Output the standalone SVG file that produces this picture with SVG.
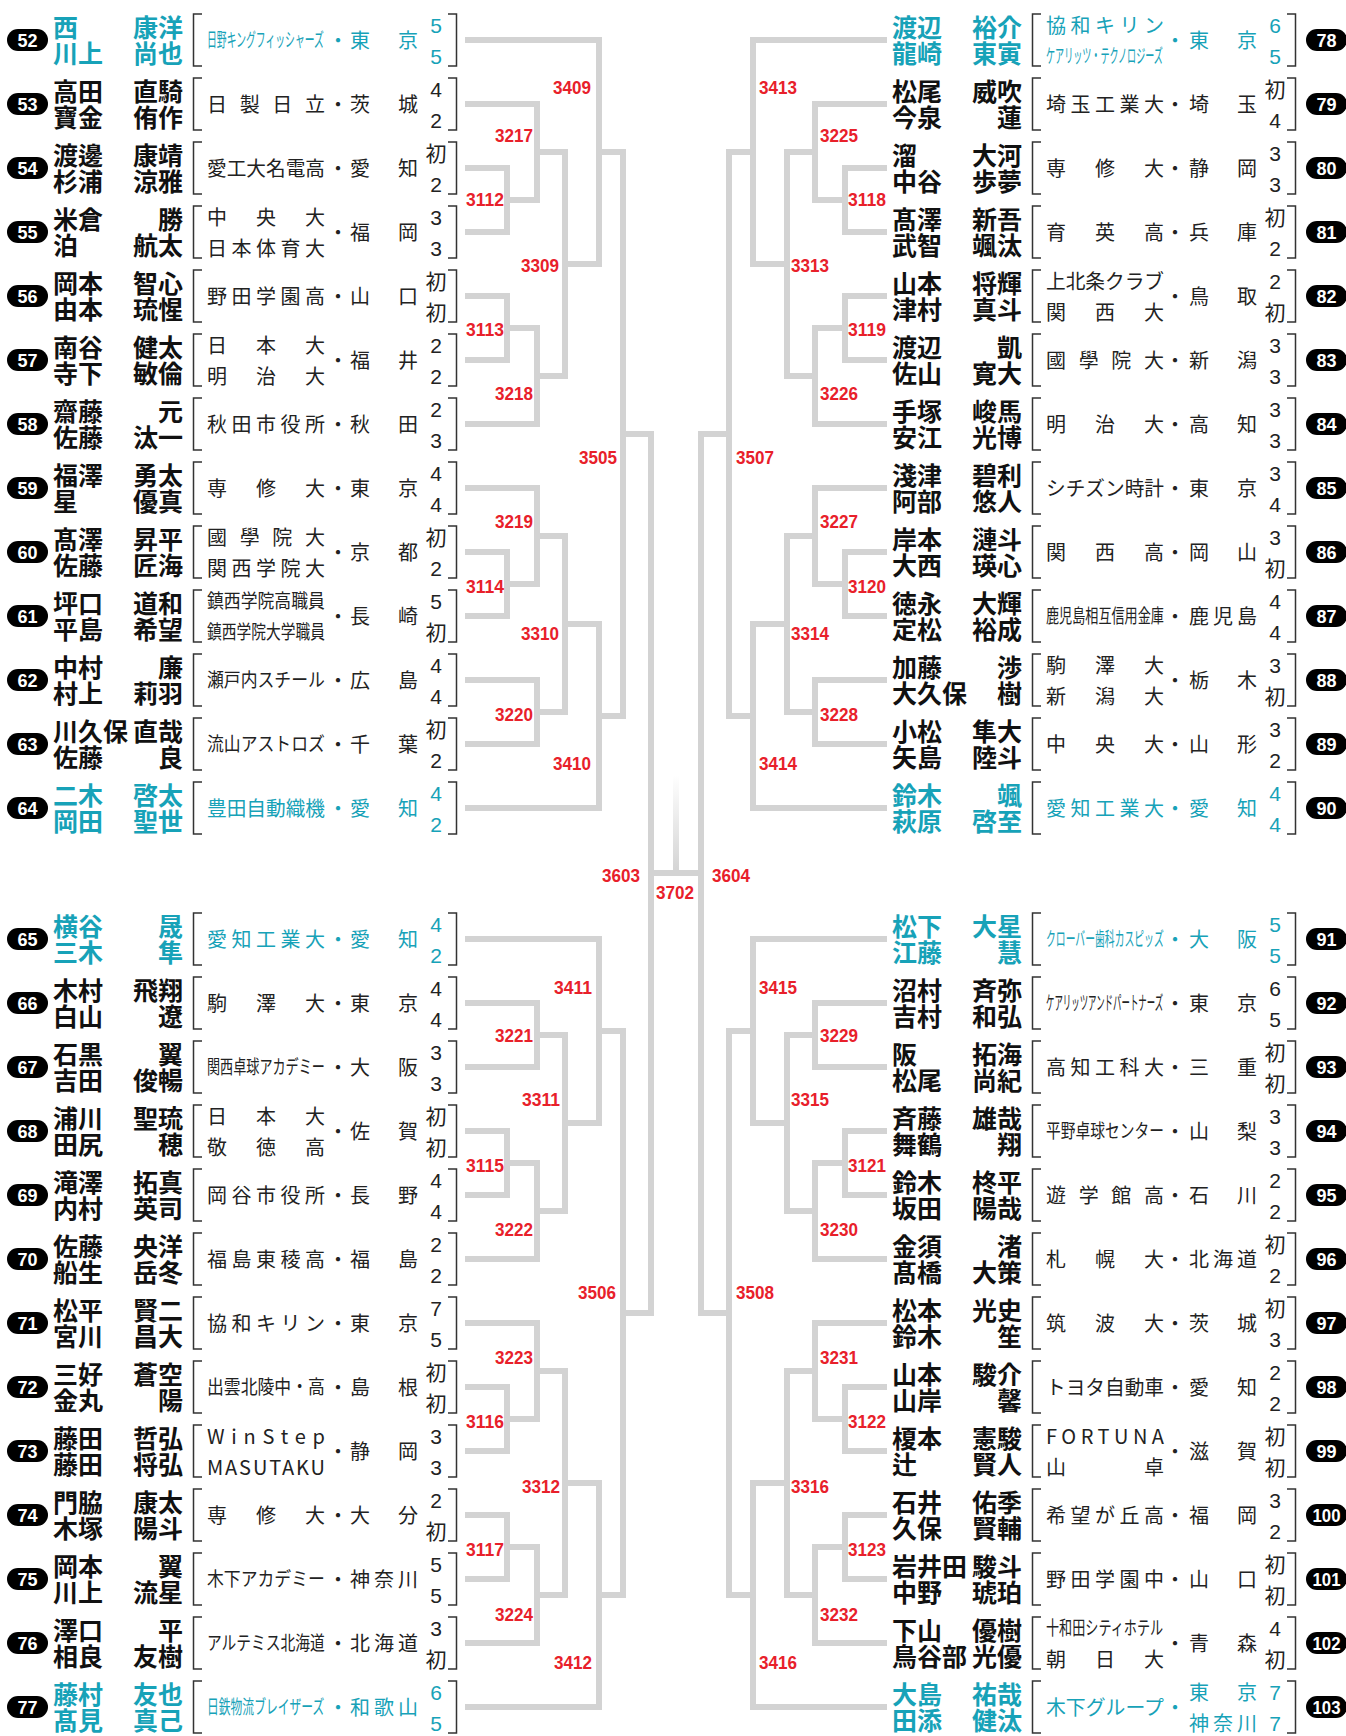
<svg xmlns="http://www.w3.org/2000/svg" width="1346" height="1736" viewBox="0 0 1346 1736">
<style>
.nm{font-family:"Noto Sans CJK JP",sans-serif;font-weight:700;font-size:25px;fill:#111}
.g{text-anchor:end}
.tm{font-family:"Noto Sans CJK JP",sans-serif;font-size:20px;fill:#222}
.tc{font-family:"Noto Sans CJK JP",sans-serif;font-size:19px;fill:#222}
.sc{font-family:"Liberation Sans","Noto Sans CJK JP",sans-serif;font-size:21px;fill:#222;text-anchor:middle}
.dt{font-family:"Noto Sans CJK JP",sans-serif;font-size:20px;fill:#222;text-anchor:middle}
.br{fill:none;stroke:#333;stroke-width:1.5}
.t .nm,.t .tm,.t .tc,.t .sc,.t .dt{fill:#17a2b8}
.t .br{stroke:#17a2b8}
.bd{fill:#000}
.bn{font-family:"Liberation Sans",sans-serif;font-weight:700;font-size:18px;fill:#fff;text-anchor:middle}
.ln{fill:none;stroke:#d3d3d3;stroke-width:6;stroke-linecap:square}
.lb{font-family:"Liberation Sans",sans-serif;font-weight:700;font-size:19px;fill:#e8202a;text-anchor:middle}
</style>
<defs>
<path id="brk" class="br" d="M202,-26H193.5V26H202M448,-26H456.5V26H448"/>
<linearGradient id="fade" x1="0" y1="0" x2="0" y2="1"><stop offset="0" stop-color="#d3d3d3" stop-opacity="0"/><stop offset="1" stop-color="#d3d3d3"/></linearGradient>
</defs>
<g id="connectors">
<g id="leftlines">
<path class="ln" d="M468,168H507V232H468M507,200H537M468,296H507V360H468M507,328H537M468,104H537V200M537,152H565M537,328V424H468M537,376H565M565,152V376M565,264H599M468,40H599V264M599,152H623M468,552H507V616H468M507,584H537M468,488H537V584M537,536H565M468,680H537V744H468M537,712H565M565,536V712M565,624H599M599,624V808H468M599,716H623M623,152V716M623,434H651M468,1003H537V1067H468M537,1035H565M468,1131H507V1195H468M507,1163H537M537,1163V1259H468M537,1211H565M565,1035V1211M565,1123H599M468,939H599V1123M599,1031H623M468,1387H507V1451H468M507,1419H537M468,1323H537V1419M537,1371H565M468,1515H507V1579H468M507,1547H537M537,1547V1643H468M537,1595H565M565,1371V1595M565,1483H599M599,1483V1707H468M599,1595H623M623,1031V1595M623,1313H651M651,434V1313M651,873H676"/>
</g>
<g id="rightlines" transform="matrix(-1,0,0,1,1352,0)">
<path class="ln" d="M468,168H507V232H468M507,200H537M468,296H507V360H468M507,328H537M468,104H537V200M537,152H565M537,328V424H468M537,376H565M565,152V376M565,264H599M468,40H599V264M599,152H623M468,552H507V616H468M507,584H537M468,488H537V584M537,536H565M468,680H537V744H468M537,712H565M565,536V712M565,624H599M599,624V808H468M599,716H623M623,152V716M623,434H651M468,1003H537V1067H468M537,1035H565M468,1131H507V1195H468M507,1163H537M537,1163V1259H468M537,1211H565M565,1035V1211M565,1123H599M468,939H599V1123M599,1031H623M468,1387H507V1451H468M507,1419H537M468,1323H537V1419M537,1371H565M468,1515H507V1579H468M507,1547H537M537,1547V1643H468M537,1595H565M565,1371V1595M565,1483H599M599,1483V1707H468M599,1595H623M623,1031V1595M623,1313H651M651,434V1313M651,873H676"/>
</g>
<rect x="673" y="775" width="6" height="98" fill="url(#fade)"/>
<g id="matchlabels">
<text class="lb" x="572" y="94" textLength="38" lengthAdjust="spacingAndGlyphs">3409</text>
<text class="lb" x="514" y="142" textLength="38" lengthAdjust="spacingAndGlyphs">3217</text>
<text class="lb" x="485" y="206" textLength="38" lengthAdjust="spacingAndGlyphs">3112</text>
<text class="lb" x="540" y="272" textLength="38" lengthAdjust="spacingAndGlyphs">3309</text>
<text class="lb" x="485" y="336" textLength="38" lengthAdjust="spacingAndGlyphs">3113</text>
<text class="lb" x="514" y="400" textLength="38" lengthAdjust="spacingAndGlyphs">3218</text>
<text class="lb" x="598" y="464" textLength="38" lengthAdjust="spacingAndGlyphs">3505</text>
<text class="lb" x="514" y="528" textLength="38" lengthAdjust="spacingAndGlyphs">3219</text>
<text class="lb" x="485" y="593" textLength="38" lengthAdjust="spacingAndGlyphs">3114</text>
<text class="lb" x="540" y="640" textLength="38" lengthAdjust="spacingAndGlyphs">3310</text>
<text class="lb" x="514" y="721" textLength="38" lengthAdjust="spacingAndGlyphs">3220</text>
<text class="lb" x="572" y="770" textLength="38" lengthAdjust="spacingAndGlyphs">3410</text>
<text class="lb" x="573" y="994" textLength="38" lengthAdjust="spacingAndGlyphs">3411</text>
<text class="lb" x="514" y="1042" textLength="38" lengthAdjust="spacingAndGlyphs">3221</text>
<text class="lb" x="541" y="1106" textLength="38" lengthAdjust="spacingAndGlyphs">3311</text>
<text class="lb" x="485" y="1172" textLength="38" lengthAdjust="spacingAndGlyphs">3115</text>
<text class="lb" x="514" y="1236" textLength="38" lengthAdjust="spacingAndGlyphs">3222</text>
<text class="lb" x="597" y="1299" textLength="38" lengthAdjust="spacingAndGlyphs">3506</text>
<text class="lb" x="514" y="1364" textLength="38" lengthAdjust="spacingAndGlyphs">3223</text>
<text class="lb" x="485" y="1428" textLength="38" lengthAdjust="spacingAndGlyphs">3116</text>
<text class="lb" x="541" y="1493" textLength="38" lengthAdjust="spacingAndGlyphs">3312</text>
<text class="lb" x="485" y="1556" textLength="38" lengthAdjust="spacingAndGlyphs">3117</text>
<text class="lb" x="514" y="1621" textLength="38" lengthAdjust="spacingAndGlyphs">3224</text>
<text class="lb" x="573" y="1669" textLength="38" lengthAdjust="spacingAndGlyphs">3412</text>
<text class="lb" x="621" y="882" textLength="38" lengthAdjust="spacingAndGlyphs">3603</text>
<text class="lb" x="675" y="899" textLength="38" lengthAdjust="spacingAndGlyphs">3702</text>
<text class="lb" x="731" y="882" textLength="38" lengthAdjust="spacingAndGlyphs">3604</text>
<text class="lb" x="778" y="94" textLength="38" lengthAdjust="spacingAndGlyphs">3413</text>
<text class="lb" x="839" y="142" textLength="38" lengthAdjust="spacingAndGlyphs">3225</text>
<text class="lb" x="867" y="206" textLength="38" lengthAdjust="spacingAndGlyphs">3118</text>
<text class="lb" x="810" y="272" textLength="38" lengthAdjust="spacingAndGlyphs">3313</text>
<text class="lb" x="867" y="336" textLength="38" lengthAdjust="spacingAndGlyphs">3119</text>
<text class="lb" x="839" y="400" textLength="38" lengthAdjust="spacingAndGlyphs">3226</text>
<text class="lb" x="755" y="464" textLength="38" lengthAdjust="spacingAndGlyphs">3507</text>
<text class="lb" x="839" y="528" textLength="38" lengthAdjust="spacingAndGlyphs">3227</text>
<text class="lb" x="867" y="593" textLength="38" lengthAdjust="spacingAndGlyphs">3120</text>
<text class="lb" x="810" y="640" textLength="38" lengthAdjust="spacingAndGlyphs">3314</text>
<text class="lb" x="839" y="721" textLength="38" lengthAdjust="spacingAndGlyphs">3228</text>
<text class="lb" x="778" y="770" textLength="38" lengthAdjust="spacingAndGlyphs">3414</text>
<text class="lb" x="778" y="994" textLength="38" lengthAdjust="spacingAndGlyphs">3415</text>
<text class="lb" x="839" y="1042" textLength="38" lengthAdjust="spacingAndGlyphs">3229</text>
<text class="lb" x="810" y="1106" textLength="38" lengthAdjust="spacingAndGlyphs">3315</text>
<text class="lb" x="867" y="1172" textLength="38" lengthAdjust="spacingAndGlyphs">3121</text>
<text class="lb" x="839" y="1236" textLength="38" lengthAdjust="spacingAndGlyphs">3230</text>
<text class="lb" x="755" y="1299" textLength="38" lengthAdjust="spacingAndGlyphs">3508</text>
<text class="lb" x="839" y="1364" textLength="38" lengthAdjust="spacingAndGlyphs">3231</text>
<text class="lb" x="867" y="1428" textLength="38" lengthAdjust="spacingAndGlyphs">3122</text>
<text class="lb" x="810" y="1493" textLength="38" lengthAdjust="spacingAndGlyphs">3316</text>
<text class="lb" x="867" y="1556" textLength="38" lengthAdjust="spacingAndGlyphs">3123</text>
<text class="lb" x="839" y="1621" textLength="38" lengthAdjust="spacingAndGlyphs">3232</text>
<text class="lb" x="778" y="1669" textLength="38" lengthAdjust="spacingAndGlyphs">3416</text>
</g>
</g>
<g id="nodes">
<g id="e52" class="t" transform="translate(0,40)"><rect class="bd" x="7" y="-11" width="41" height="22" rx="11"/><text class="bn" x="27.5" y="6.5">52</text><text class="nm" x="53" y="-3.5">西<tspan x="53" y="22.5">川上</tspan></text><text class="nm g" x="183" y="-3.5">康洋<tspan x="183" y="22.5">尚也</tspan></text><use href="#brk"/><text class="tc" transform="translate(207,7) scale(0.5175,1)">日野キングフィッシャーズ</text><text class="dt" x="338" y="7.6">・</text><text class="tm" x="350" y="7.6" textLength="68">東京</text><text class="sc" x="436" y="-7.5">5</text><text class="sc" x="436" y="23.5">5</text></g>
<g id="e53" transform="translate(0,104)"><rect class="bd" x="7" y="-11" width="41" height="22" rx="11"/><text class="bn" x="27.5" y="6.5">53</text><text class="nm" x="53" y="-3.5">高田<tspan x="53" y="22.5">寶金</tspan></text><text class="nm g" x="183" y="-3.5">直騎<tspan x="183" y="22.5">侑作</tspan></text><use href="#brk"/><text class="tm" x="207" y="7.6" textLength="118">日製日立</text><text class="dt" x="338" y="7.6">・</text><text class="tm" x="350" y="7.6" textLength="68">茨城</text><text class="sc" x="436" y="-7.5">4</text><text class="sc" x="436" y="23.5">2</text></g>
<g id="e54" transform="translate(0,168)"><rect class="bd" x="7" y="-11" width="41" height="22" rx="11"/><text class="bn" x="27.5" y="6.5">54</text><text class="nm" x="53" y="-3.5">渡邊<tspan x="53" y="22.5">杉浦</tspan></text><text class="nm g" x="183" y="-3.5">康靖<tspan x="183" y="22.5">涼雅</tspan></text><use href="#brk"/><text class="tm" x="207" y="7.6" textLength="118" lengthAdjust="spacingAndGlyphs">愛工大名電高</text><text class="dt" x="338" y="7.6">・</text><text class="tm" x="350" y="7.6" textLength="68">愛知</text><text class="sc" x="436" y="-7.5">初</text><text class="sc" x="436" y="23.5">2</text></g>
<g id="e55" transform="translate(0,232)"><rect class="bd" x="7" y="-11" width="41" height="22" rx="11"/><text class="bn" x="27.5" y="6.5">55</text><text class="nm" x="53" y="-3.5">米倉<tspan x="53" y="22.5">泊</tspan></text><text class="nm g" x="183" y="-3.5">勝<tspan x="183" y="22.5">航太</tspan></text><use href="#brk"/><text class="tm" x="207" y="-7.4" textLength="118">中央大</text><text class="tm" x="207" y="23.6" textLength="118">日本体育大</text><text class="dt" x="338" y="7.6">・</text><text class="tm" x="350" y="7.6" textLength="68">福岡</text><text class="sc" x="436" y="-7.5">3</text><text class="sc" x="436" y="23.5">3</text></g>
<g id="e56" transform="translate(0,296)"><rect class="bd" x="7" y="-11" width="41" height="22" rx="11"/><text class="bn" x="27.5" y="6.5">56</text><text class="nm" x="53" y="-3.5">岡本<tspan x="53" y="22.5">由本</tspan></text><text class="nm g" x="183" y="-3.5">智心<tspan x="183" y="22.5">琉惺</tspan></text><use href="#brk"/><text class="tm" x="207" y="7.6" textLength="118">野田学園高</text><text class="dt" x="338" y="7.6">・</text><text class="tm" x="350" y="7.6" textLength="68">山口</text><text class="sc" x="436" y="-7.5">初</text><text class="sc" x="436" y="23.5">初</text></g>
<g id="e57" transform="translate(0,360)"><rect class="bd" x="7" y="-11" width="41" height="22" rx="11"/><text class="bn" x="27.5" y="6.5">57</text><text class="nm" x="53" y="-3.5">南谷<tspan x="53" y="22.5">寺下</tspan></text><text class="nm g" x="183" y="-3.5">健太<tspan x="183" y="22.5">敏倫</tspan></text><use href="#brk"/><text class="tm" x="207" y="-7.4" textLength="118">日本大</text><text class="tm" x="207" y="23.6" textLength="118">明治大</text><text class="dt" x="338" y="7.6">・</text><text class="tm" x="350" y="7.6" textLength="68">福井</text><text class="sc" x="436" y="-7.5">2</text><text class="sc" x="436" y="23.5">2</text></g>
<g id="e58" transform="translate(0,424)"><rect class="bd" x="7" y="-11" width="41" height="22" rx="11"/><text class="bn" x="27.5" y="6.5">58</text><text class="nm" x="53" y="-3.5">齋藤<tspan x="53" y="22.5">佐藤</tspan></text><text class="nm g" x="183" y="-3.5">元<tspan x="183" y="22.5">汰一</tspan></text><use href="#brk"/><text class="tm" x="207" y="7.6" textLength="118">秋田市役所</text><text class="dt" x="338" y="7.6">・</text><text class="tm" x="350" y="7.6" textLength="68">秋田</text><text class="sc" x="436" y="-7.5">2</text><text class="sc" x="436" y="23.5">3</text></g>
<g id="e59" transform="translate(0,488)"><rect class="bd" x="7" y="-11" width="41" height="22" rx="11"/><text class="bn" x="27.5" y="6.5">59</text><text class="nm" x="53" y="-3.5">福澤<tspan x="53" y="22.5">星</tspan></text><text class="nm g" x="183" y="-3.5">勇太<tspan x="183" y="22.5">優真</tspan></text><use href="#brk"/><text class="tm" x="207" y="7.6" textLength="118">専修大</text><text class="dt" x="338" y="7.6">・</text><text class="tm" x="350" y="7.6" textLength="68">東京</text><text class="sc" x="436" y="-7.5">4</text><text class="sc" x="436" y="23.5">4</text></g>
<g id="e60" transform="translate(0,552)"><rect class="bd" x="7" y="-11" width="41" height="22" rx="11"/><text class="bn" x="27.5" y="6.5">60</text><text class="nm" x="53" y="-3.5">髙澤<tspan x="53" y="22.5">佐藤</tspan></text><text class="nm g" x="183" y="-3.5">昇平<tspan x="183" y="22.5">匠海</tspan></text><use href="#brk"/><text class="tm" x="207" y="-7.4" textLength="118">國學院大</text><text class="tm" x="207" y="23.6" textLength="118">関西学院大</text><text class="dt" x="338" y="7.6">・</text><text class="tm" x="350" y="7.6" textLength="68">京都</text><text class="sc" x="436" y="-7.5">初</text><text class="sc" x="436" y="23.5">2</text></g>
<g id="e61" transform="translate(0,616)"><rect class="bd" x="7" y="-11" width="41" height="22" rx="11"/><text class="bn" x="27.5" y="6.5">61</text><text class="nm" x="53" y="-3.5">坪口<tspan x="53" y="22.5">平島</tspan></text><text class="nm g" x="183" y="-3.5">道和<tspan x="183" y="22.5">希望</tspan></text><use href="#brk"/><text class="tc" transform="translate(207,-8) scale(0.887,1)">鎮西学院高職員</text><text class="tc" transform="translate(207,23) scale(0.776,1)">鎮西学院大学職員</text><text class="dt" x="338" y="7.6">・</text><text class="tm" x="350" y="7.6" textLength="68">長崎</text><text class="sc" x="436" y="-7.5">5</text><text class="sc" x="436" y="23.5">初</text></g>
<g id="e62" transform="translate(0,680)"><rect class="bd" x="7" y="-11" width="41" height="22" rx="11"/><text class="bn" x="27.5" y="6.5">62</text><text class="nm" x="53" y="-3.5">中村<tspan x="53" y="22.5">村上</tspan></text><text class="nm g" x="183" y="-3.5">廉<tspan x="183" y="22.5">莉羽</tspan></text><use href="#brk"/><text class="tc" transform="translate(207,7) scale(0.887,1)">瀬戸内スチール</text><text class="dt" x="338" y="7.6">・</text><text class="tm" x="350" y="7.6" textLength="68">広島</text><text class="sc" x="436" y="-7.5">4</text><text class="sc" x="436" y="23.5">4</text></g>
<g id="e63" transform="translate(0,744)"><rect class="bd" x="7" y="-11" width="41" height="22" rx="11"/><text class="bn" x="27.5" y="6.5">63</text><text class="nm" x="53" y="-3.5">川久保<tspan x="53" y="22.5">佐藤</tspan></text><text class="nm g" x="183" y="-3.5">直哉<tspan x="183" y="22.5">良</tspan></text><use href="#brk"/><text class="tc" transform="translate(207,7) scale(0.887,1)">流山アストロズ</text><text class="dt" x="338" y="7.6">・</text><text class="tm" x="350" y="7.6" textLength="68">千葉</text><text class="sc" x="436" y="-7.5">初</text><text class="sc" x="436" y="23.5">2</text></g>
<g id="e64" class="t" transform="translate(0,808)"><rect class="bd" x="7" y="-11" width="41" height="22" rx="11"/><text class="bn" x="27.5" y="6.5">64</text><text class="nm" x="53" y="-3.5">二木<tspan x="53" y="22.5">岡田</tspan></text><text class="nm g" x="183" y="-3.5">啓太<tspan x="183" y="22.5">聖世</tspan></text><use href="#brk"/><text class="tm" x="207" y="7.6" textLength="118" lengthAdjust="spacingAndGlyphs">豊田自動織機</text><text class="dt" x="338" y="7.6">・</text><text class="tm" x="350" y="7.6" textLength="68">愛知</text><text class="sc" x="436" y="-7.5">4</text><text class="sc" x="436" y="23.5">2</text></g>
<g id="e65" class="t" transform="translate(0,939)"><rect class="bd" x="7" y="-11" width="41" height="22" rx="11"/><text class="bn" x="27.5" y="6.5">65</text><text class="nm" x="53" y="-3.5">横谷<tspan x="53" y="22.5">三木</tspan></text><text class="nm g" x="183" y="-3.5">晟<tspan x="183" y="22.5">隼</tspan></text><use href="#brk"/><text class="tm" x="207" y="7.6" textLength="118">愛知工業大</text><text class="dt" x="338" y="7.6">・</text><text class="tm" x="350" y="7.6" textLength="68">愛知</text><text class="sc" x="436" y="-7.5">4</text><text class="sc" x="436" y="23.5">2</text></g>
<g id="e66" transform="translate(0,1003)"><rect class="bd" x="7" y="-11" width="41" height="22" rx="11"/><text class="bn" x="27.5" y="6.5">66</text><text class="nm" x="53" y="-3.5">木村<tspan x="53" y="22.5">白山</tspan></text><text class="nm g" x="183" y="-3.5">飛翔<tspan x="183" y="22.5">遼</tspan></text><use href="#brk"/><text class="tm" x="207" y="7.6" textLength="118">駒澤大</text><text class="dt" x="338" y="7.6">・</text><text class="tm" x="350" y="7.6" textLength="68">東京</text><text class="sc" x="436" y="-7.5">4</text><text class="sc" x="436" y="23.5">4</text></g>
<g id="e67" transform="translate(0,1067)"><rect class="bd" x="7" y="-11" width="41" height="22" rx="11"/><text class="bn" x="27.5" y="6.5">67</text><text class="nm" x="53" y="-3.5">石黒<tspan x="53" y="22.5">吉田</tspan></text><text class="nm g" x="183" y="-3.5">翼<tspan x="183" y="22.5">俊暢</tspan></text><use href="#brk"/><text class="tc" transform="translate(207,7) scale(0.69,1)">関西卓球アカデミー</text><text class="dt" x="338" y="7.6">・</text><text class="tm" x="350" y="7.6" textLength="68">大阪</text><text class="sc" x="436" y="-7.5">3</text><text class="sc" x="436" y="23.5">3</text></g>
<g id="e68" transform="translate(0,1131)"><rect class="bd" x="7" y="-11" width="41" height="22" rx="11"/><text class="bn" x="27.5" y="6.5">68</text><text class="nm" x="53" y="-3.5">浦川<tspan x="53" y="22.5">田尻</tspan></text><text class="nm g" x="183" y="-3.5">聖琉<tspan x="183" y="22.5">穂</tspan></text><use href="#brk"/><text class="tm" x="207" y="-7.4" textLength="118">日本大</text><text class="tm" x="207" y="23.6" textLength="118">敬徳高</text><text class="dt" x="338" y="7.6">・</text><text class="tm" x="350" y="7.6" textLength="68">佐賀</text><text class="sc" x="436" y="-7.5">初</text><text class="sc" x="436" y="23.5">初</text></g>
<g id="e69" transform="translate(0,1195)"><rect class="bd" x="7" y="-11" width="41" height="22" rx="11"/><text class="bn" x="27.5" y="6.5">69</text><text class="nm" x="53" y="-3.5">滝澤<tspan x="53" y="22.5">内村</tspan></text><text class="nm g" x="183" y="-3.5">拓真<tspan x="183" y="22.5">英司</tspan></text><use href="#brk"/><text class="tm" x="207" y="7.6" textLength="118">岡谷市役所</text><text class="dt" x="338" y="7.6">・</text><text class="tm" x="350" y="7.6" textLength="68">長野</text><text class="sc" x="436" y="-7.5">4</text><text class="sc" x="436" y="23.5">4</text></g>
<g id="e70" transform="translate(0,1259)"><rect class="bd" x="7" y="-11" width="41" height="22" rx="11"/><text class="bn" x="27.5" y="6.5">70</text><text class="nm" x="53" y="-3.5">佐藤<tspan x="53" y="22.5">船生</tspan></text><text class="nm g" x="183" y="-3.5">央洋<tspan x="183" y="22.5">岳冬</tspan></text><use href="#brk"/><text class="tm" x="207" y="7.6" textLength="118">福島東稜高</text><text class="dt" x="338" y="7.6">・</text><text class="tm" x="350" y="7.6" textLength="68">福島</text><text class="sc" x="436" y="-7.5">2</text><text class="sc" x="436" y="23.5">2</text></g>
<g id="e71" transform="translate(0,1323)"><rect class="bd" x="7" y="-11" width="41" height="22" rx="11"/><text class="bn" x="27.5" y="6.5">71</text><text class="nm" x="53" y="-3.5">松平<tspan x="53" y="22.5">宮川</tspan></text><text class="nm g" x="183" y="-3.5">賢二<tspan x="183" y="22.5">昌大</tspan></text><use href="#brk"/><text class="tm" x="207" y="7.6" textLength="118">協和キリン</text><text class="dt" x="338" y="7.6">・</text><text class="tm" x="350" y="7.6" textLength="68">東京</text><text class="sc" x="436" y="-7.5">7</text><text class="sc" x="436" y="23.5">5</text></g>
<g id="e72" transform="translate(0,1387)"><rect class="bd" x="7" y="-11" width="41" height="22" rx="11"/><text class="bn" x="27.5" y="6.5">72</text><text class="nm" x="53" y="-3.5">三好<tspan x="53" y="22.5">金丸</tspan></text><text class="nm g" x="183" y="-3.5">蒼空<tspan x="183" y="22.5">陽</tspan></text><use href="#brk"/><text class="tc" transform="translate(207,7) scale(0.887,1)">出雲北陵中・高</text><text class="dt" x="338" y="7.6">・</text><text class="tm" x="350" y="7.6" textLength="68">島根</text><text class="sc" x="436" y="-7.5">初</text><text class="sc" x="436" y="23.5">初</text></g>
<g id="e73" transform="translate(0,1451)"><rect class="bd" x="7" y="-11" width="41" height="22" rx="11"/><text class="bn" x="27.5" y="6.5">73</text><text class="nm" x="53" y="-3.5">藤田<tspan x="53" y="22.5">藤田</tspan></text><text class="nm g" x="183" y="-3.5">哲弘<tspan x="183" y="22.5">将弘</tspan></text><use href="#brk"/><text class="tm" x="207" y="-7.4" textLength="118">WinStep</text><text class="tm" x="207" y="23.6" textLength="118">MASUTAKU</text><text class="dt" x="338" y="7.6">・</text><text class="tm" x="350" y="7.6" textLength="68">静岡</text><text class="sc" x="436" y="-7.5">3</text><text class="sc" x="436" y="23.5">3</text></g>
<g id="e74" transform="translate(0,1515)"><rect class="bd" x="7" y="-11" width="41" height="22" rx="11"/><text class="bn" x="27.5" y="6.5">74</text><text class="nm" x="53" y="-3.5">門脇<tspan x="53" y="22.5">木塚</tspan></text><text class="nm g" x="183" y="-3.5">康太<tspan x="183" y="22.5">陽斗</tspan></text><use href="#brk"/><text class="tm" x="207" y="7.6" textLength="118">専修大</text><text class="dt" x="338" y="7.6">・</text><text class="tm" x="350" y="7.6" textLength="68">大分</text><text class="sc" x="436" y="-7.5">2</text><text class="sc" x="436" y="23.5">初</text></g>
<g id="e75" transform="translate(0,1579)"><rect class="bd" x="7" y="-11" width="41" height="22" rx="11"/><text class="bn" x="27.5" y="6.5">75</text><text class="nm" x="53" y="-3.5">岡本<tspan x="53" y="22.5">川上</tspan></text><text class="nm g" x="183" y="-3.5">翼<tspan x="183" y="22.5">流星</tspan></text><use href="#brk"/><text class="tc" transform="translate(207,7) scale(0.887,1)">木下アカデミー</text><text class="dt" x="338" y="7.6">・</text><text class="tm" x="350" y="7.6" textLength="68">神奈川</text><text class="sc" x="436" y="-7.5">5</text><text class="sc" x="436" y="23.5">5</text></g>
<g id="e76" transform="translate(0,1643)"><rect class="bd" x="7" y="-11" width="41" height="22" rx="11"/><text class="bn" x="27.5" y="6.5">76</text><text class="nm" x="53" y="-3.5">澤口<tspan x="53" y="22.5">相良</tspan></text><text class="nm g" x="183" y="-3.5">平<tspan x="183" y="22.5">友樹</tspan></text><use href="#brk"/><text class="tc" transform="translate(207,7) scale(0.776,1)">アルテミス北海道</text><text class="dt" x="338" y="7.6">・</text><text class="tm" x="350" y="7.6" textLength="68">北海道</text><text class="sc" x="436" y="-7.5">3</text><text class="sc" x="436" y="23.5">初</text></g>
<g id="e77" class="t" transform="translate(0,1707)"><rect class="bd" x="7" y="-11" width="41" height="22" rx="11"/><text class="bn" x="27.5" y="6.5">77</text><text class="nm" x="53" y="-3.5">藤村<tspan x="53" y="22.5">髙見</tspan></text><text class="nm g" x="183" y="-3.5">友也<tspan x="183" y="22.5">真己</tspan></text><use href="#brk"/><text class="tc" transform="translate(207,7) scale(0.621,1)">日鉄物流ブレイザーズ</text><text class="dt" x="338" y="7.6">・</text><text class="tm" x="350" y="7.6" textLength="68">和歌山</text><text class="sc" x="436" y="-7.5">6</text><text class="sc" x="436" y="23.5">5</text></g>
<g id="e78" class="t" transform="translate(839,40)"><rect class="bd" x="467" y="-11" width="41" height="22" rx="11"/><text class="bn" x="487.5" y="6.5">78</text><text class="nm" x="53" y="-3.5">渡辺<tspan x="53" y="22.5">龍崎</tspan></text><text class="nm g" x="183" y="-3.5">裕介<tspan x="183" y="22.5">東寅</tspan></text><use href="#brk"/><text class="tm" x="207" y="-7.4" textLength="118">協和キリン</text><text class="tc" transform="translate(207,23) scale(0.478,1)">ケアリッツ・テクノロジーズ</text><text class="dt" x="336" y="7.6">・</text><text class="tm" x="350" y="7.6" textLength="68">東京</text><text class="sc" x="436" y="-7.5">6</text><text class="sc" x="436" y="23.5">5</text></g>
<g id="e79" transform="translate(839,104)"><rect class="bd" x="467" y="-11" width="41" height="22" rx="11"/><text class="bn" x="487.5" y="6.5">79</text><text class="nm" x="53" y="-3.5">松尾<tspan x="53" y="22.5">今泉</tspan></text><text class="nm g" x="183" y="-3.5">威吹<tspan x="183" y="22.5">蓮</tspan></text><use href="#brk"/><text class="tm" x="207" y="7.6" textLength="118">埼玉工業大</text><text class="dt" x="336" y="7.6">・</text><text class="tm" x="350" y="7.6" textLength="68">埼玉</text><text class="sc" x="436" y="-7.5">初</text><text class="sc" x="436" y="23.5">4</text></g>
<g id="e80" transform="translate(839,168)"><rect class="bd" x="467" y="-11" width="41" height="22" rx="11"/><text class="bn" x="487.5" y="6.5">80</text><text class="nm" x="53" y="-3.5">溜<tspan x="53" y="22.5">中谷</tspan></text><text class="nm g" x="183" y="-3.5">大河<tspan x="183" y="22.5">歩夢</tspan></text><use href="#brk"/><text class="tm" x="207" y="7.6" textLength="118">専修大</text><text class="dt" x="336" y="7.6">・</text><text class="tm" x="350" y="7.6" textLength="68">静岡</text><text class="sc" x="436" y="-7.5">3</text><text class="sc" x="436" y="23.5">3</text></g>
<g id="e81" transform="translate(839,232)"><rect class="bd" x="467" y="-11" width="41" height="22" rx="11"/><text class="bn" x="487.5" y="6.5">81</text><text class="nm" x="53" y="-3.5">髙澤<tspan x="53" y="22.5">武智</tspan></text><text class="nm g" x="183" y="-3.5">新吾<tspan x="183" y="22.5">颯汰</tspan></text><use href="#brk"/><text class="tm" x="207" y="7.6" textLength="118">育英高</text><text class="dt" x="336" y="7.6">・</text><text class="tm" x="350" y="7.6" textLength="68">兵庫</text><text class="sc" x="436" y="-7.5">初</text><text class="sc" x="436" y="23.5">2</text></g>
<g id="e82" transform="translate(839,296)"><rect class="bd" x="467" y="-11" width="41" height="22" rx="11"/><text class="bn" x="487.5" y="6.5">82</text><text class="nm" x="53" y="-3.5">山本<tspan x="53" y="22.5">津村</tspan></text><text class="nm g" x="183" y="-3.5">将輝<tspan x="183" y="22.5">真斗</tspan></text><use href="#brk"/><text class="tm" x="207" y="-7.4" textLength="118" lengthAdjust="spacingAndGlyphs">上北条クラブ</text><text class="tm" x="207" y="23.6" textLength="118">関西大</text><text class="dt" x="336" y="7.6">・</text><text class="tm" x="350" y="7.6" textLength="68">鳥取</text><text class="sc" x="436" y="-7.5">2</text><text class="sc" x="436" y="23.5">初</text></g>
<g id="e83" transform="translate(839,360)"><rect class="bd" x="467" y="-11" width="41" height="22" rx="11"/><text class="bn" x="487.5" y="6.5">83</text><text class="nm" x="53" y="-3.5">渡辺<tspan x="53" y="22.5">佐山</tspan></text><text class="nm g" x="183" y="-3.5">凱<tspan x="183" y="22.5">寛大</tspan></text><use href="#brk"/><text class="tm" x="207" y="7.6" textLength="118">國學院大</text><text class="dt" x="336" y="7.6">・</text><text class="tm" x="350" y="7.6" textLength="68">新潟</text><text class="sc" x="436" y="-7.5">3</text><text class="sc" x="436" y="23.5">3</text></g>
<g id="e84" transform="translate(839,424)"><rect class="bd" x="467" y="-11" width="41" height="22" rx="11"/><text class="bn" x="487.5" y="6.5">84</text><text class="nm" x="53" y="-3.5">手塚<tspan x="53" y="22.5">安江</tspan></text><text class="nm g" x="183" y="-3.5">峻馬<tspan x="183" y="22.5">光博</tspan></text><use href="#brk"/><text class="tm" x="207" y="7.6" textLength="118">明治大</text><text class="dt" x="336" y="7.6">・</text><text class="tm" x="350" y="7.6" textLength="68">高知</text><text class="sc" x="436" y="-7.5">3</text><text class="sc" x="436" y="23.5">3</text></g>
<g id="e85" transform="translate(839,488)"><rect class="bd" x="467" y="-11" width="41" height="22" rx="11"/><text class="bn" x="487.5" y="6.5">85</text><text class="nm" x="53" y="-3.5">淺津<tspan x="53" y="22.5">阿部</tspan></text><text class="nm g" x="183" y="-3.5">碧利<tspan x="183" y="22.5">悠人</tspan></text><use href="#brk"/><text class="tm" x="207" y="7.6" textLength="118" lengthAdjust="spacingAndGlyphs">シチズン時計</text><text class="dt" x="336" y="7.6">・</text><text class="tm" x="350" y="7.6" textLength="68">東京</text><text class="sc" x="436" y="-7.5">3</text><text class="sc" x="436" y="23.5">4</text></g>
<g id="e86" transform="translate(839,552)"><rect class="bd" x="467" y="-11" width="41" height="22" rx="11"/><text class="bn" x="487.5" y="6.5">86</text><text class="nm" x="53" y="-3.5">岸本<tspan x="53" y="22.5">大西</tspan></text><text class="nm g" x="183" y="-3.5">漣斗<tspan x="183" y="22.5">瑛心</tspan></text><use href="#brk"/><text class="tm" x="207" y="7.6" textLength="118">関西高</text><text class="dt" x="336" y="7.6">・</text><text class="tm" x="350" y="7.6" textLength="68">岡山</text><text class="sc" x="436" y="-7.5">3</text><text class="sc" x="436" y="23.5">初</text></g>
<g id="e87" transform="translate(839,616)"><rect class="bd" x="467" y="-11" width="41" height="22" rx="11"/><text class="bn" x="487.5" y="6.5">87</text><text class="nm" x="53" y="-3.5">徳永<tspan x="53" y="22.5">定松</tspan></text><text class="nm g" x="183" y="-3.5">大輝<tspan x="183" y="22.5">裕成</tspan></text><use href="#brk"/><text class="tc" transform="translate(207,7) scale(0.69,1)">鹿児島相互信用金庫</text><text class="dt" x="336" y="7.6">・</text><text class="tm" x="350" y="7.6" textLength="68">鹿児島</text><text class="sc" x="436" y="-7.5">4</text><text class="sc" x="436" y="23.5">4</text></g>
<g id="e88" transform="translate(839,680)"><rect class="bd" x="467" y="-11" width="41" height="22" rx="11"/><text class="bn" x="487.5" y="6.5">88</text><text class="nm" x="53" y="-3.5">加藤<tspan x="53" y="22.5">大久保</tspan></text><text class="nm g" x="183" y="-3.5">渉<tspan x="183" y="22.5">樹</tspan></text><use href="#brk"/><text class="tm" x="207" y="-7.4" textLength="118">駒澤大</text><text class="tm" x="207" y="23.6" textLength="118">新潟大</text><text class="dt" x="336" y="7.6">・</text><text class="tm" x="350" y="7.6" textLength="68">栃木</text><text class="sc" x="436" y="-7.5">3</text><text class="sc" x="436" y="23.5">初</text></g>
<g id="e89" transform="translate(839,744)"><rect class="bd" x="467" y="-11" width="41" height="22" rx="11"/><text class="bn" x="487.5" y="6.5">89</text><text class="nm" x="53" y="-3.5">小松<tspan x="53" y="22.5">矢島</tspan></text><text class="nm g" x="183" y="-3.5">隼大<tspan x="183" y="22.5">陸斗</tspan></text><use href="#brk"/><text class="tm" x="207" y="7.6" textLength="118">中央大</text><text class="dt" x="336" y="7.6">・</text><text class="tm" x="350" y="7.6" textLength="68">山形</text><text class="sc" x="436" y="-7.5">3</text><text class="sc" x="436" y="23.5">2</text></g>
<g id="e90" class="t" transform="translate(839,808)"><rect class="bd" x="467" y="-11" width="41" height="22" rx="11"/><text class="bn" x="487.5" y="6.5">90</text><text class="nm" x="53" y="-3.5">鈴木<tspan x="53" y="22.5">萩原</tspan></text><text class="nm g" x="183" y="-3.5">颯<tspan x="183" y="22.5">啓至</tspan></text><use href="#brk"/><text class="tm" x="207" y="7.6" textLength="118">愛知工業大</text><text class="dt" x="336" y="7.6">・</text><text class="tm" x="350" y="7.6" textLength="68">愛知</text><text class="sc" x="436" y="-7.5">4</text><text class="sc" x="436" y="23.5">4</text></g>
<g id="e91" class="t" transform="translate(839,939)"><rect class="bd" x="467" y="-11" width="41" height="22" rx="11"/><text class="bn" x="487.5" y="6.5">91</text><text class="nm" x="53" y="-3.5">松下<tspan x="53" y="22.5">江藤</tspan></text><text class="nm g" x="183" y="-3.5">大星<tspan x="183" y="22.5">慧</tspan></text><use href="#brk"/><text class="tc" transform="translate(207,7) scale(0.5175,1)">クローバー歯科カスピッズ</text><text class="dt" x="336" y="7.6">・</text><text class="tm" x="350" y="7.6" textLength="68">大阪</text><text class="sc" x="436" y="-7.5">5</text><text class="sc" x="436" y="23.5">5</text></g>
<g id="e92" transform="translate(839,1003)"><rect class="bd" x="467" y="-11" width="41" height="22" rx="11"/><text class="bn" x="487.5" y="6.5">92</text><text class="nm" x="53" y="-3.5">沼村<tspan x="53" y="22.5">吉村</tspan></text><text class="nm g" x="183" y="-3.5">斉弥<tspan x="183" y="22.5">和弘</tspan></text><use href="#brk"/><text class="tc" transform="translate(207,7) scale(0.4436,1)">ケアリッツアンドパートナーズ</text><text class="dt" x="336" y="7.6">・</text><text class="tm" x="350" y="7.6" textLength="68">東京</text><text class="sc" x="436" y="-7.5">6</text><text class="sc" x="436" y="23.5">5</text></g>
<g id="e93" transform="translate(839,1067)"><rect class="bd" x="467" y="-11" width="41" height="22" rx="11"/><text class="bn" x="487.5" y="6.5">93</text><text class="nm" x="53" y="-3.5">阪<tspan x="53" y="22.5">松尾</tspan></text><text class="nm g" x="183" y="-3.5">拓海<tspan x="183" y="22.5">尚紀</tspan></text><use href="#brk"/><text class="tm" x="207" y="7.6" textLength="118">高知工科大</text><text class="dt" x="336" y="7.6">・</text><text class="tm" x="350" y="7.6" textLength="68">三重</text><text class="sc" x="436" y="-7.5">初</text><text class="sc" x="436" y="23.5">初</text></g>
<g id="e94" transform="translate(839,1131)"><rect class="bd" x="467" y="-11" width="41" height="22" rx="11"/><text class="bn" x="487.5" y="6.5">94</text><text class="nm" x="53" y="-3.5">斉藤<tspan x="53" y="22.5">舞鶴</tspan></text><text class="nm g" x="183" y="-3.5">雄哉<tspan x="183" y="22.5">翔</tspan></text><use href="#brk"/><text class="tc" transform="translate(207,7) scale(0.776,1)">平野卓球センター</text><text class="dt" x="336" y="7.6">・</text><text class="tm" x="350" y="7.6" textLength="68">山梨</text><text class="sc" x="436" y="-7.5">3</text><text class="sc" x="436" y="23.5">3</text></g>
<g id="e95" transform="translate(839,1195)"><rect class="bd" x="467" y="-11" width="41" height="22" rx="11"/><text class="bn" x="487.5" y="6.5">95</text><text class="nm" x="53" y="-3.5">鈴木<tspan x="53" y="22.5">坂田</tspan></text><text class="nm g" x="183" y="-3.5">柊平<tspan x="183" y="22.5">陽哉</tspan></text><use href="#brk"/><text class="tm" x="207" y="7.6" textLength="118">遊学館高</text><text class="dt" x="336" y="7.6">・</text><text class="tm" x="350" y="7.6" textLength="68">石川</text><text class="sc" x="436" y="-7.5">2</text><text class="sc" x="436" y="23.5">2</text></g>
<g id="e96" transform="translate(839,1259)"><rect class="bd" x="467" y="-11" width="41" height="22" rx="11"/><text class="bn" x="487.5" y="6.5">96</text><text class="nm" x="53" y="-3.5">金須<tspan x="53" y="22.5">髙橋</tspan></text><text class="nm g" x="183" y="-3.5">渚<tspan x="183" y="22.5">大策</tspan></text><use href="#brk"/><text class="tm" x="207" y="7.6" textLength="118">札幌大</text><text class="dt" x="336" y="7.6">・</text><text class="tm" x="350" y="7.6" textLength="68">北海道</text><text class="sc" x="436" y="-7.5">初</text><text class="sc" x="436" y="23.5">2</text></g>
<g id="e97" transform="translate(839,1323)"><rect class="bd" x="467" y="-11" width="41" height="22" rx="11"/><text class="bn" x="487.5" y="6.5">97</text><text class="nm" x="53" y="-3.5">松本<tspan x="53" y="22.5">鈴木</tspan></text><text class="nm g" x="183" y="-3.5">光史<tspan x="183" y="22.5">笙</tspan></text><use href="#brk"/><text class="tm" x="207" y="7.6" textLength="118">筑波大</text><text class="dt" x="336" y="7.6">・</text><text class="tm" x="350" y="7.6" textLength="68">茨城</text><text class="sc" x="436" y="-7.5">初</text><text class="sc" x="436" y="23.5">3</text></g>
<g id="e98" transform="translate(839,1387)"><rect class="bd" x="467" y="-11" width="41" height="22" rx="11"/><text class="bn" x="487.5" y="6.5">98</text><text class="nm" x="53" y="-3.5">山本<tspan x="53" y="22.5">山岸</tspan></text><text class="nm g" x="183" y="-3.5">駿介<tspan x="183" y="22.5">馨</tspan></text><use href="#brk"/><text class="tm" x="207" y="7.6" textLength="118" lengthAdjust="spacingAndGlyphs">トヨタ自動車</text><text class="dt" x="336" y="7.6">・</text><text class="tm" x="350" y="7.6" textLength="68">愛知</text><text class="sc" x="436" y="-7.5">2</text><text class="sc" x="436" y="23.5">2</text></g>
<g id="e99" transform="translate(839,1451)"><rect class="bd" x="467" y="-11" width="41" height="22" rx="11"/><text class="bn" x="487.5" y="6.5">99</text><text class="nm" x="53" y="-3.5">榎本<tspan x="53" y="22.5">辻</tspan></text><text class="nm g" x="183" y="-3.5">憲駿<tspan x="183" y="22.5">賢人</tspan></text><use href="#brk"/><text class="tm" x="207" y="-7.4" textLength="118">FORTUNA</text><text class="tm" x="207" y="23.6" textLength="118">山卓</text><text class="dt" x="336" y="7.6">・</text><text class="tm" x="350" y="7.6" textLength="68">滋賀</text><text class="sc" x="436" y="-7.5">初</text><text class="sc" x="436" y="23.5">初</text></g>
<g id="e100" transform="translate(839,1515)"><rect class="bd" x="467" y="-11" width="41" height="22" rx="11"/><text class="bn" x="487.5" y="6.5" textLength="28" lengthAdjust="spacingAndGlyphs">100</text><text class="nm" x="53" y="-3.5">石井<tspan x="53" y="22.5">久保</tspan></text><text class="nm g" x="183" y="-3.5">佑季<tspan x="183" y="22.5">賢輔</tspan></text><use href="#brk"/><text class="tm" x="207" y="7.6" textLength="118">希望が丘高</text><text class="dt" x="336" y="7.6">・</text><text class="tm" x="350" y="7.6" textLength="68">福岡</text><text class="sc" x="436" y="-7.5">3</text><text class="sc" x="436" y="23.5">2</text></g>
<g id="e101" transform="translate(839,1579)"><rect class="bd" x="467" y="-11" width="41" height="22" rx="11"/><text class="bn" x="487.5" y="6.5" textLength="28" lengthAdjust="spacingAndGlyphs">101</text><text class="nm" x="53" y="-3.5">岩井田<tspan x="53" y="22.5">中野</tspan></text><text class="nm g" x="183" y="-3.5">駿斗<tspan x="183" y="22.5">琥珀</tspan></text><use href="#brk"/><text class="tm" x="207" y="7.6" textLength="118">野田学園中</text><text class="dt" x="336" y="7.6">・</text><text class="tm" x="350" y="7.6" textLength="68">山口</text><text class="sc" x="436" y="-7.5">初</text><text class="sc" x="436" y="23.5">初</text></g>
<g id="e102" transform="translate(839,1643)"><rect class="bd" x="467" y="-11" width="41" height="22" rx="11"/><text class="bn" x="487.5" y="6.5" textLength="28" lengthAdjust="spacingAndGlyphs">102</text><text class="nm" x="53" y="-3.5">下山<tspan x="53" y="22.5">鳥谷部</tspan></text><text class="nm g" x="183" y="-3.5">優樹<tspan x="183" y="22.5">光優</tspan></text><use href="#brk"/><text class="tc" transform="translate(207,-8) scale(0.69,1)">十和田シティホテル</text><text class="tm" x="207" y="23.6" textLength="118">朝日大</text><text class="dt" x="336" y="7.6">・</text><text class="tm" x="350" y="7.6" textLength="68">青森</text><text class="sc" x="436" y="-7.5">4</text><text class="sc" x="436" y="23.5">初</text></g>
<g id="e103" class="t" transform="translate(839,1707)"><rect class="bd" x="467" y="-11" width="41" height="22" rx="11"/><text class="bn" x="487.5" y="6.5" textLength="28" lengthAdjust="spacingAndGlyphs">103</text><text class="nm" x="53" y="-3.5">大島<tspan x="53" y="22.5">田添</tspan></text><text class="nm g" x="183" y="-3.5">祐哉<tspan x="183" y="22.5">健汰</tspan></text><use href="#brk"/><text class="tm" x="207" y="7.6" textLength="118" lengthAdjust="spacingAndGlyphs">木下グループ</text><text class="dt" x="336" y="7.6">・</text><text class="tm" x="350" y="-7.4" textLength="68">東京</text><text class="tm" x="350" y="23.6" textLength="68">神奈川</text><text class="sc" x="436" y="-7.5">7</text><text class="sc" x="436" y="23.5">7</text></g>
</g>
</svg>
